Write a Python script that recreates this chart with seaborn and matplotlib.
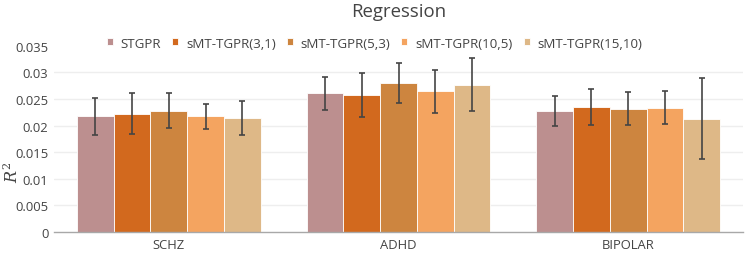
import matplotlib
matplotlib.use("Agg")
import matplotlib.pyplot as plt
import seaborn as sns
import pandas as pd
import numpy as np
from matplotlib.ticker import FuncFormatter

categories = ["SCHZ", "ADHD", "BIPOLAR"]
methods = ["STGPR", "sMT-TGPR(3,1)", "sMT-TGPR(5,3)", "sMT-TGPR(10,5)", "sMT-TGPR(15,10)"]
colors = ["#bc8f8f", "#d2691e", "#cd853f", "#f4a460", "#deb887"]

# values per method, order: SCHZ, ADHD, BIPOLAR
stgpr = [0.02177, 0.02606, 0.02280]
mt_3_1 = [0.02220, 0.02565, 0.02345]
mt_5_3 = [0.02280, 0.02800, 0.02320]
mt_10_5 = [0.02175, 0.02645, 0.02335]
mt_15_10 = [0.02140, 0.02765, 0.02130]

err_stgpr = [0.00347, 0.00307, 0.00284]
err_3_1 = [0.00385, 0.00413, 0.00338]
err_5_3 = [0.00325, 0.00380, 0.00305]
err_10_5 = [0.00237, 0.00400, 0.00315]
err_15_10 = [0.00313, 0.00500, 0.00766]

values = [stgpr, mt_3_1, mt_5_3, mt_10_5, mt_15_10]
errors = [err_stgpr, err_3_1, err_5_3, err_10_5, err_15_10]

rows = []
for m, vals, errs in zip(methods, values, errors):
    for c, v, e in zip(categories, vals, errs):
        rows.append({"category": c, "method": m, "value": v, "err": e})
df = pd.DataFrame(rows)

sns.set_theme(style="white")
plt.rcParams["font.family"] = ["Open Sans", "DejaVu Sans"]
plt.rcParams["mathtext.fontset"] = "dejavuserif"
text_color = "#444444"

fig = plt.figure(figsize=(7.47, 2.55), dpi=100)
ax = fig.add_axes([54 / 747, 1 - 233 / 255, (743 - 54) / 747, (233 - 46.7) / 255])

sns.barplot(data=df, x="category", y="value", hue="method", order=categories,
            hue_order=methods, palette=colors, errorbar=None, width=0.8,
            saturation=1, edgecolor="#ffffff", linewidth=0.6, ax=ax, legend=True)

# error bars at bar centres taken from the drawn patches
for i, m in enumerate(methods):
    cont = ax.containers[i]
    sub = df[df["method"] == m].set_index("category").loc[categories]
    xs = [p.get_x() + p.get_width() / 2 for p in cont.patches]
    ys = [p.get_height() for p in cont.patches]
    ax.errorbar(xs, ys, yerr=sub["err"].values, fmt="none", ecolor="#444444",
                elinewidth=1.4, capsize=2.5, capthick=1.4, alpha=0.85, zorder=5)

ax.set_ylim(0, 0.035)
ax.set_xlim(-0.5, 2.5)
ax.set_yticks(np.arange(0, 0.0351, 0.005))
ax.yaxis.set_major_formatter(FuncFormatter(lambda v, p: "0" if v == 0 else ("%g" % round(v, 4))))
ax.set_xlabel("")
ax.set_ylabel("")
for y in np.arange(0.005, 0.0301, 0.005):
    ax.axhline(y, color="#eeeeee", linewidth=1, zorder=0)
ax.set_axisbelow(True)
for s in ["top", "right", "left"]:
    ax.spines[s].set_visible(False)
ax.spines["bottom"].set_color("#a8a8a8")
ax.spines["bottom"].set_linewidth(1)
ax.tick_params(axis="both", length=0, labelsize=9.4, colors=text_color, pad=4)

fig.text(13 / 747, 1 - 172 / 255, "$R^2$", rotation=90, ha="center", va="center",
         fontsize=11.5, color=text_color)

leg = ax.get_legend()
handles = leg.legend_handles
leg.remove()
fig.legend(handles, methods, loc="center left", bbox_to_anchor=(104 / 747, 1 - 44 / 255),
           ncol=5, frameon=False, fontsize=9.6, handlelength=0.45, handleheight=0.45,
           handletextpad=0.6, columnspacing=0.82, labelcolor=text_color,
           borderaxespad=0, borderpad=0.2)

fig.text(398.5 / 747, 1 - 12 / 255, "Regression", ha="center", va="center",
         fontsize=13.4, color=text_color)

fig.savefig("out.png", dpi=100)
